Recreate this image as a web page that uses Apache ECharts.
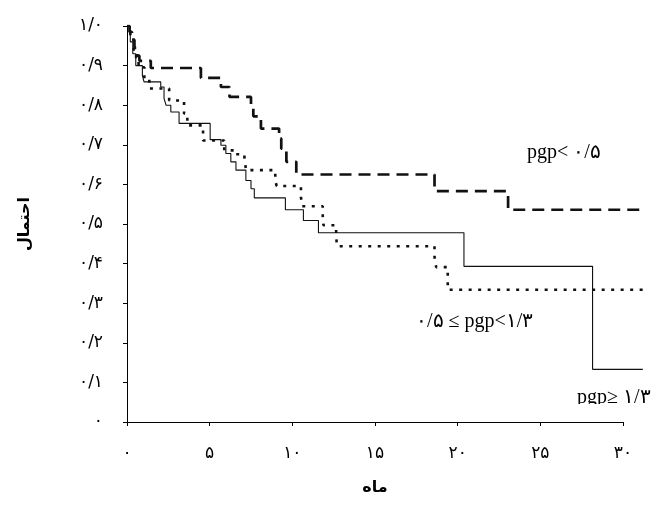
<!DOCTYPE html>
<html>
<head>
<meta charset="utf-8">
<script src="https://cdn.jsdelivr.net/npm/echarts@6/dist/echarts.min.js"></script>
<style>
  html, body { margin: 0; padding: 0; background: #fff; }
  #chart { width: 660px; height: 507px; }
</style>
</head>
<body>
<div id="chart"></div>
<script>
// Kaplan–Meier style survival curves by P-gp expression group (months vs probability)

// pgp < 0.5 (thick dashed)
const lowMonths = [0, 0.15, 0.3, 0.45, 0.6, 0.75, 1.44, 4.47, 5.68, 6.2, 7.5, 7.64, 8.1, 9.2, 9.33, 9.64, 10.24, 18.6, 23.05, 31.2];
const lowSurv   = [1.0, 0.985, 0.965, 0.945, 0.925, 0.912, 0.894, 0.869, 0.846, 0.821, 0.792, 0.772, 0.741, 0.716, 0.690, 0.657, 0.625, 0.583, 0.536, 0.536];

// 0.5 <= pgp < 1.3 (dotted)
const midMonths = [0, 0.2, 0.4, 0.55, 0.7, 1.05, 1.35, 2.55, 3.45, 3.65, 4.6, 5.88, 6.55, 7.1, 7.2, 8.97, 9.05, 10.52, 10.6, 11.84, 11.88, 12.65, 12.7, 18.6, 18.7, 19.4, 31.2];
const midSurv   = [1.0, 0.97, 0.94, 0.92, 0.896, 0.867, 0.842, 0.812, 0.779, 0.749, 0.711, 0.686, 0.676, 0.669, 0.636, 0.610, 0.596, 0.568, 0.545, 0.519, 0.497, 0.469, 0.444, 0.417, 0.391, 0.334, 0.334];

// pgp >= 1.3 (thin solid)
const highMonths = [0, 0.2, 0.35, 0.53, 0.93, 1.03, 2.04, 2.24, 2.36, 2.65, 3.15, 5.03, 5.68, 5.98, 6.28, 6.59, 7.19, 7.5, 7.7, 9.58, 10.67, 11.58, 20.38, 28.16, 31.2];
const highSurv   = [1.0, 0.96, 0.93, 0.90, 0.875, 0.859, 0.846, 0.817, 0.800, 0.783, 0.754, 0.713, 0.699, 0.678, 0.657, 0.636, 0.610, 0.589, 0.566, 0.536, 0.509, 0.478, 0.393, 0.133, 0.133];

// Tick labels (Persian digits, "/" as decimal separator)
const xTickLabels = ['۰', '۵', '۱۰', '۱۵', '۲۰', '۲۵', '۳۰'];
const yTickLabels = ['۰', '۰/۱', '۰/۲', '۰/۳', '۰/۴', '۰/۵', '۰/۶', '۰/۷', '۰/۸', '۰/۹', '۱/۰'];

// Axis titles and group labels
const xTitle = 'ماه';
const yTitle = 'احتمال';
const groupLabels = ['pgp< ۰/۵', '۰/۵ ≤ pgp<۱/۳', 'pgp≥ ۱/۳'];

// Follow-up runs a little past the last labelled month
const followUpEnd = 31.2;

function pairs(xs, ys) { return xs.map((x, i) => [x, ys[i]]); }

const chart = echarts.init(document.getElementById('chart'), null, { renderer: 'canvas' });

const axisFont = '"DejaVu Sans", sans-serif';
const labelFont = '"Liberation Serif", "DejaVu Serif", serif';

// Plot frame: the labelled axes stop at month 30, the curves continue to followUpEnd
const plotLeft = 127, plotTop = 26, plotBottom = 85;
const axisRight = 37;
const pxPerMonth = (660 - plotLeft - axisRight) / 30;
const curveRight = 660 - plotLeft - pxPerMonth * followUpEnd;

chart.setOption({
  animation: false,
  backgroundColor: '#ffffff',
  grid: [
    { left: plotLeft, top: plotTop, right: axisRight, bottom: plotBottom, containLabel: false },
    { left: plotLeft, top: plotTop, right: curveRight, bottom: plotBottom, containLabel: false }
  ],
  xAxis: [
    {
      gridIndex: 0, type: 'value',
      min: 0, max: 30, interval: 5,
      name: xTitle,
      nameLocation: 'middle',
      nameGap: 58,
      nameTextStyle: { fontFamily: axisFont, fontSize: 16, fontWeight: 'bold', color: '#000' },
      axisLine: { show: true, onZero: false, lineStyle: { color: '#000', width: 1 } },
      axisTick: { show: true, inside: false, length: 4, lineStyle: { color: '#000' } },
      splitLine: { show: false },
      axisLabel: {
        margin: 23, color: '#000', fontFamily: axisFont, fontSize: 17,
        formatter: (v, i) => xTickLabels[i]
      }
    },
    {
      gridIndex: 1, type: 'value', min: 0, max: followUpEnd, show: false
    }
  ],
  yAxis: [
    {
      gridIndex: 0, type: 'value',
      min: 0, max: 1, interval: 0.1,
      name: yTitle,
      nameLocation: 'middle',
      nameGap: 94,
      nameTextStyle: { fontFamily: axisFont, fontSize: 16, fontWeight: 'bold', color: '#000' },
      axisLine: { show: true, onZero: false, lineStyle: { color: '#000', width: 1 } },
      axisTick: { show: true, inside: false, length: 4, lineStyle: { color: '#000' } },
      splitLine: { show: false },
      axisLabel: {
        margin: 24, color: '#000', fontFamily: axisFont, fontSize: 17,
        formatter: (v, i) => yTickLabels[i]
      }
    },
    {
      gridIndex: 1, type: 'value', min: 0, max: 1, show: false
    }
  ],
  series: [
    {
      name: groupLabels[0], type: 'line', step: 'end',
      xAxisIndex: 1, yAxisIndex: 1,
      symbol: 'none', silent: true,
      data: pairs(lowMonths, lowSurv),
      lineStyle: { color: '#111', width: 2.7, type: [12, 7] }
    },
    {
      name: groupLabels[1], type: 'line', step: 'end',
      xAxisIndex: 1, yAxisIndex: 1,
      symbol: 'none', silent: true,
      data: pairs(midMonths, midSurv),
      lineStyle: { color: '#111', width: 2.6, type: [3, 6.5] }
    },
    {
      name: groupLabels[2], type: 'line', step: 'end',
      xAxisIndex: 1, yAxisIndex: 1,
      symbol: 'none', silent: true,
      data: pairs(highMonths, highSurv),
      lineStyle: { color: '#111', width: 1.1, type: 'solid' }
    }
  ],
  graphic: [
    {
      type: 'text', left: 527, top: 143, silent: true,
      style: { text: groupLabels[0], font: '20px ' + labelFont, fill: '#000' }
    },
    {
      type: 'text', left: 416, top: 312, silent: true,
      style: { text: groupLabels[1], font: '20px ' + labelFont, fill: '#000' }
    },
    {
      type: 'text', left: 577, top: 388, silent: true, z: 10,
      style: { text: groupLabels[2], font: '20px ' + labelFont, fill: '#000' }
    },
    {
      // trims the lower edge of the last group label
      type: 'rect', left: 570, top: 404, silent: true, z: 11,
      shape: { width: 90, height: 14 },
      style: { fill: '#fff' }
    }
  ]
});
</script>
</body>
</html>
